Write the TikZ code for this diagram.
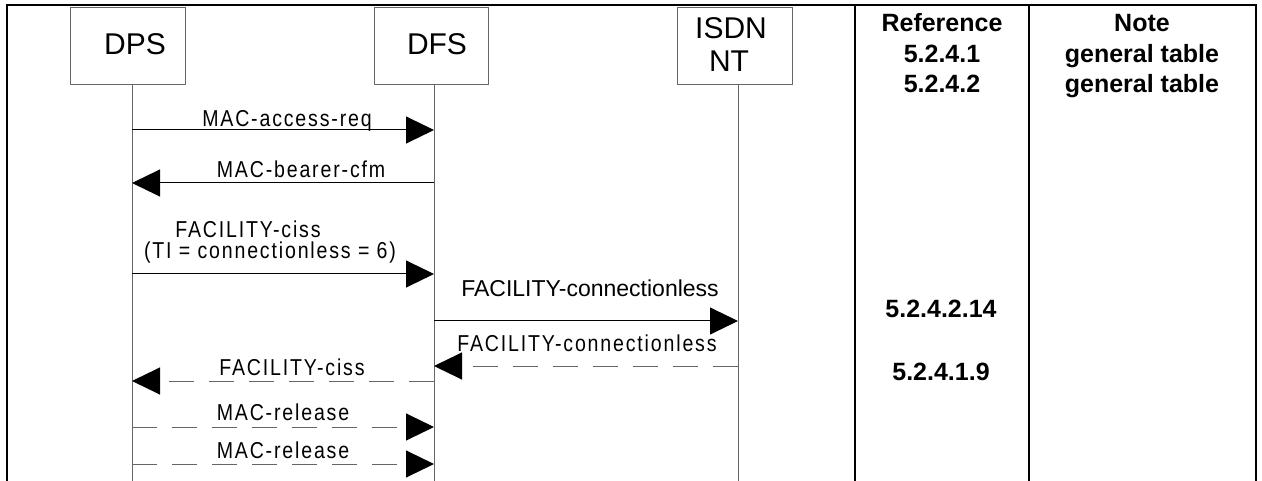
\documentclass[tikz,border=0pt]{standalone}
\usepackage{fontspec}
\setmainfont{Liberation Sans}
\newfontfamily\spacedfont[FakeStretch=0.85,LetterSpace=8]{Liberation Sans}
\usetikzlibrary{arrows.meta}
\tikzset{
  frameline/.style={line width=2.5pt, black},
  ebox/.style={draw=gray!80!black, line width=1pt, inner sep=0pt},
  lifeline/.style={draw=gray!80!black, line width=1pt},
  tip/.style={-{Triangle[length=28pt, width=27pt, color=black]}},
  msg/.style={tip, draw=black, line width=1pt},
  dmsg/.style={tip, draw=gray!80!black, line width=1pt, dash pattern=on 25pt off 15pt},
  boxtext/.style={font=\fontsize{30}{31}\selectfont, anchor=base, inner sep=0pt},
  lbl/.style={font=\spacedfont\fontsize{23}{26}\selectfont, anchor=base, inner sep=0pt},
  plbl/.style={font=\fontsize{23}{26}\selectfont, anchor=base, inner sep=0pt},
  reftext/.style={font=\fontsize{25}{30}\selectfont\bfseries, anchor=base, inner sep=0pt}
}
\begin{document}
\begin{tikzpicture}[x=1pt, y=-1pt]
\useasboundingbox (0,0) rectangle (1262,481);
% frame
\draw[frameline] (7,481) -- (7,5) -- (1256,5) -- (1256,481);
\draw[frameline] (855,5) -- (855,481);
\draw[frameline] (1029,5) -- (1029,481);
% entity boxes
\node[ebox, minimum width=115pt, minimum height=77pt] (dps) at (127.5,46.5) {};
\node[ebox, minimum width=114pt, minimum height=77pt] (dfs) at (431,46.5) {};
\node[ebox, minimum width=115pt, minimum height=77pt] (isdn) at (734.5,46.5) {};
\node[boxtext] (dpst) at (135,55) {DPS};
\node[boxtext] (dfst) at (437,55) {DFS};
\node[boxtext] (isdnt1) at (731,39) {ISDN};
\node[boxtext] (isdnt2) at (729,72) {NT};
% lifelines
\coordinate (dpsT) at (132,85);
\coordinate (dfsT) at (434,85);
\coordinate (isdnT) at (738,85);
\coordinate (dpsB) at (132,481);
\coordinate (dfsB) at (434,481);
\coordinate (isdnB) at (738,481);
\draw[lifeline] (dpsT) -- (dpsB);
\draw[lifeline] (dfsT) -- (dfsB);
\draw[lifeline] (isdnT) -- (isdnB);
% messages
\draw[msg] (dpsT |- 0,130) -- (dfsT |- 0,130);
\node[lbl] (m1) at (287,127) {MAC-access-req};
\draw[msg] (dfsT |- 0,183) -- (dpsT |- 0,183);
\node[lbl] (m2) at (301,178) {MAC-bearer-cfm};
\draw[msg] (dpsT |- 0,274) -- (dfsT |- 0,274);
\node[lbl] (m3a) at (248,238) {FACILITY-ciss};
\node[lbl] (m3b) at (270,259) {(TI = connectionless = 6)};
\draw[msg] (dfsT |- 0,321) -- (isdnT |- 0,321);
\node[plbl] (m4) at (590,297) {FACILITY-connectionless};
\draw[dmsg] (isdnT |- 0,366) -- (dfsT |- 0,366);
\node[lbl] (m5) at (587,352) {FACILITY-connectionless};
\draw[dmsg] (dfsT |- 0,381) -- (dpsT |- 0,381);
\node[lbl] (m6) at (292,375) {FACILITY-ciss};
\draw[dmsg] (dpsT |- 0,427) -- (dfsT |- 0,427);
\node[lbl] (m7) at (283,420) {MAC-release};
\draw[dmsg] (dpsT |- 0,464) -- (dfsT |- 0,464);
\node[lbl] (m8) at (283,458) {MAC-release};
% reference column
\node[reftext] (rh) at (942,32) {Reference};
\node[reftext] (r1) at (942,63) {5.2.4.1};
\node[reftext] (r2) at (942,93) {5.2.4.2};
\node[reftext] (r3) at (941,318) {5.2.4.2.14};
\node[reftext] (r4) at (941,380) {5.2.4.1.9};
% note column
\node[reftext] (nh) at (1142,32) {Note};
\node[reftext] (n1) at (1142,63) {general table};
\node[reftext] (n2) at (1142,93) {general table};
\end{tikzpicture}
\end{document}
